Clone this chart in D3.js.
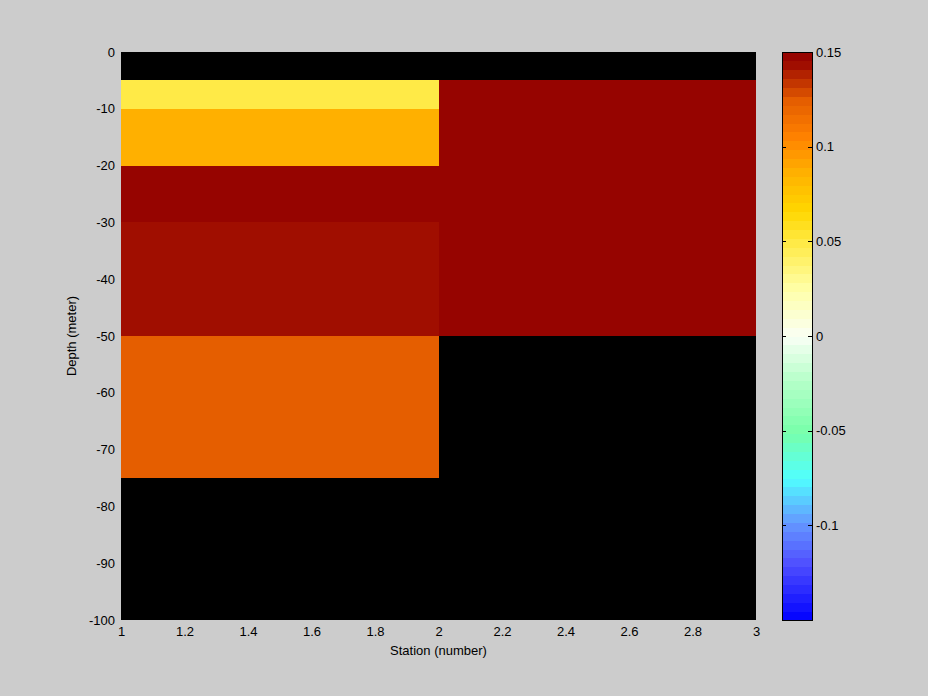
<!DOCTYPE html>
<html><head><meta charset="utf-8">
<script src="https://cdn.jsdelivr.net/npm/d3@7"></script>
<style>
html,body{margin:0;padding:0;background:#cccccc;}
svg{display:block;}
text{font-family:"Liberation Sans",Arial,sans-serif;font-size:13px;fill:#000;}
</style></head>
<body>
<svg id="chart" width="928" height="696"></svg>
<script>
// ---- data ----
const stationEdges = [1, 2, 3];
const depthEdges = [0, -5, -10, -20, -30, -50, -75, -100];
// cell values per station column (top to bottom); null = no data
const station1Values = [null, 0.048, 0.088, 0.15, 0.145, 0.125, null];
const station2Values = [null, 0.15, 0.15, 0.15, 0.15, null, null];
const xTicks = [1, 1.2, 1.4, 1.6, 1.8, 2, 2.2, 2.4, 2.6, 2.8, 3];
const xTickLabels = ["1", "1.2", "1.4", "1.6", "1.8", "2", "2.2", "2.4", "2.6", "2.8", "3"];
const yTicks = [0, -10, -20, -30, -40, -50, -60, -70, -80, -90, -100];
const yTickLabels = ["0", "-10", "-20", "-30", "-40", "-50", "-60", "-70", "-80", "-90", "-100"];
const cbTicks = [0.15, 0.1, 0.05, 0, -0.05, -0.1];
const cbTickLabels = ["0.15", "0.1", "0.05", "0", "-0.05", "-0.1"];
const cLim = [-0.15, 0.15];

// ---- colormap (64 discrete levels) ----
const anchors = [
  [0.00, [0, 0, 255]],
  [0.10, [80, 80, 255]],
  [0.17, [100, 150, 255]],
  [0.25, [80, 255, 255]],
  [0.33, [120, 255, 170]],
  [0.42, [180, 255, 200]],
  [0.50, [250, 255, 245]],
  [0.58, [255, 255, 170]],
  [0.664, [255, 234, 71]],
  [0.72, [255, 215, 0]],
  [0.789, [255, 176, 0]],
  [0.85, [255, 130, 0]],
  [0.914, [229, 94, 0]],
  [0.977, [160, 13, 0]],
  [1.00, [145, 0, 0]]
];
const interp = d3.scaleLinear().domain(anchors.map(a => a[0])).range(anchors.map(a => d3.rgb(...a[1]).toString())).interpolate(d3.interpolateRgb);
const nLevels = 64;
const palette = d3.range(nLevels).map(i => d3.rgb(interp((i + 0.5) / nLevels)).formatHex());
const color = d3.scaleQuantize().domain(cLim).range(palette);

// ---- layout ----
const svg = d3.select("#chart");
const L = 121, R = 756, T = 52, B = 620;
const x = d3.scaleLinear().domain([1, 3]).range([L, R]);
const y = d3.scaleLinear().domain([0, -100]).range([T, B]);

// axes background (black, NaN shown as background)
svg.append("rect").attr("x", L).attr("y", T).attr("width", R - L).attr("height", B - T).attr("fill", "#000");

const columns = [station1Values, station2Values];
const cells = [];
columns.forEach((vals, ci) => {
  vals.forEach((v, ri) => {
    if (v !== null) cells.push({x0: stationEdges[ci], x1: stationEdges[ci + 1], y0: depthEdges[ri], y1: depthEdges[ri + 1], v});
  });
});
svg.append("g").selectAll("rect").data(cells).join("rect")
  .attr("x", d => x(d.x0)).attr("y", d => y(d.y0))
  .attr("width", d => x(d.x1) - x(d.x0)).attr("height", d => y(d.y1) - y(d.y0))
  .attr("fill", d => color(Math.min(d.v, cLim[1] - 1e-9)))
  .attr("shape-rendering", "crispEdges");

// axes
const xAxis = d3.axisBottom(x).tickValues(xTicks).tickSize(0).tickPadding(7).tickFormat((d, i) => xTickLabels[i]);
const gx = svg.append("g").attr("transform", `translate(0,${B})`).call(xAxis);
gx.select(".domain").remove();
gx.selectAll("text").attr("font-family", null).attr("font-size", null).attr("dy", "0.71em");

const yAxis = d3.axisLeft(y).tickValues(yTicks).tickSize(0).tickPadding(6).tickFormat((d, i) => yTickLabels[i]);
const gy = svg.append("g").attr("transform", `translate(${L},0)`).call(yAxis);
gy.select(".domain").remove();
gy.selectAll("text").attr("font-family", null).attr("font-size", null);

svg.append("text").attr("x", (L + R) / 2).attr("y", 655).attr("text-anchor", "middle").text("Station (number)");
svg.append("text").attr("transform", `translate(76,${(T + B) / 2}) rotate(-90)`).attr("text-anchor", "middle").text("Depth (meter)");

// colorbar
const CL = 782, CR = 813;
const cy = d3.scaleLinear().domain(cLim).range([B, T]);
const step = (cLim[1] - cLim[0]) / nLevels;
svg.append("g").selectAll("rect").data(palette).join("rect")
  .attr("x", CL).attr("width", CR - CL)
  .attr("y", (d, i) => cy(cLim[0] + (i + 1) * step))
  .attr("height", (d, i) => cy(cLim[0] + i * step) - cy(cLim[0] + (i + 1) * step) + 0.5)
  .attr("fill", d => d).attr("shape-rendering", "crispEdges");
svg.append("rect").attr("x", CL + 0.5).attr("y", T + 0.5).attr("width", CR - CL - 1).attr("height", B - T)
  .attr("fill", "none").attr("stroke", "#000").attr("stroke-width", 1);
const cbG = svg.append("g");
cbTicks.forEach((t, i) => {
  const yy = Math.round(cy(t)) + 0.5;
  if (i > 0) {
    cbG.append("line").attr("x1", CL).attr("x2", CL + 4).attr("y1", yy).attr("y2", yy).attr("stroke", "#000");
    cbG.append("line").attr("x1", CR - 5).attr("x2", CR - 1).attr("y1", yy).attr("y2", yy).attr("stroke", "#000");
  }
  cbG.append("text").attr("x", CR + 3).attr("y", cy(t)).attr("dy", "0.35em").text(cbTickLabels[i]);
});
</script>
</body></html>
